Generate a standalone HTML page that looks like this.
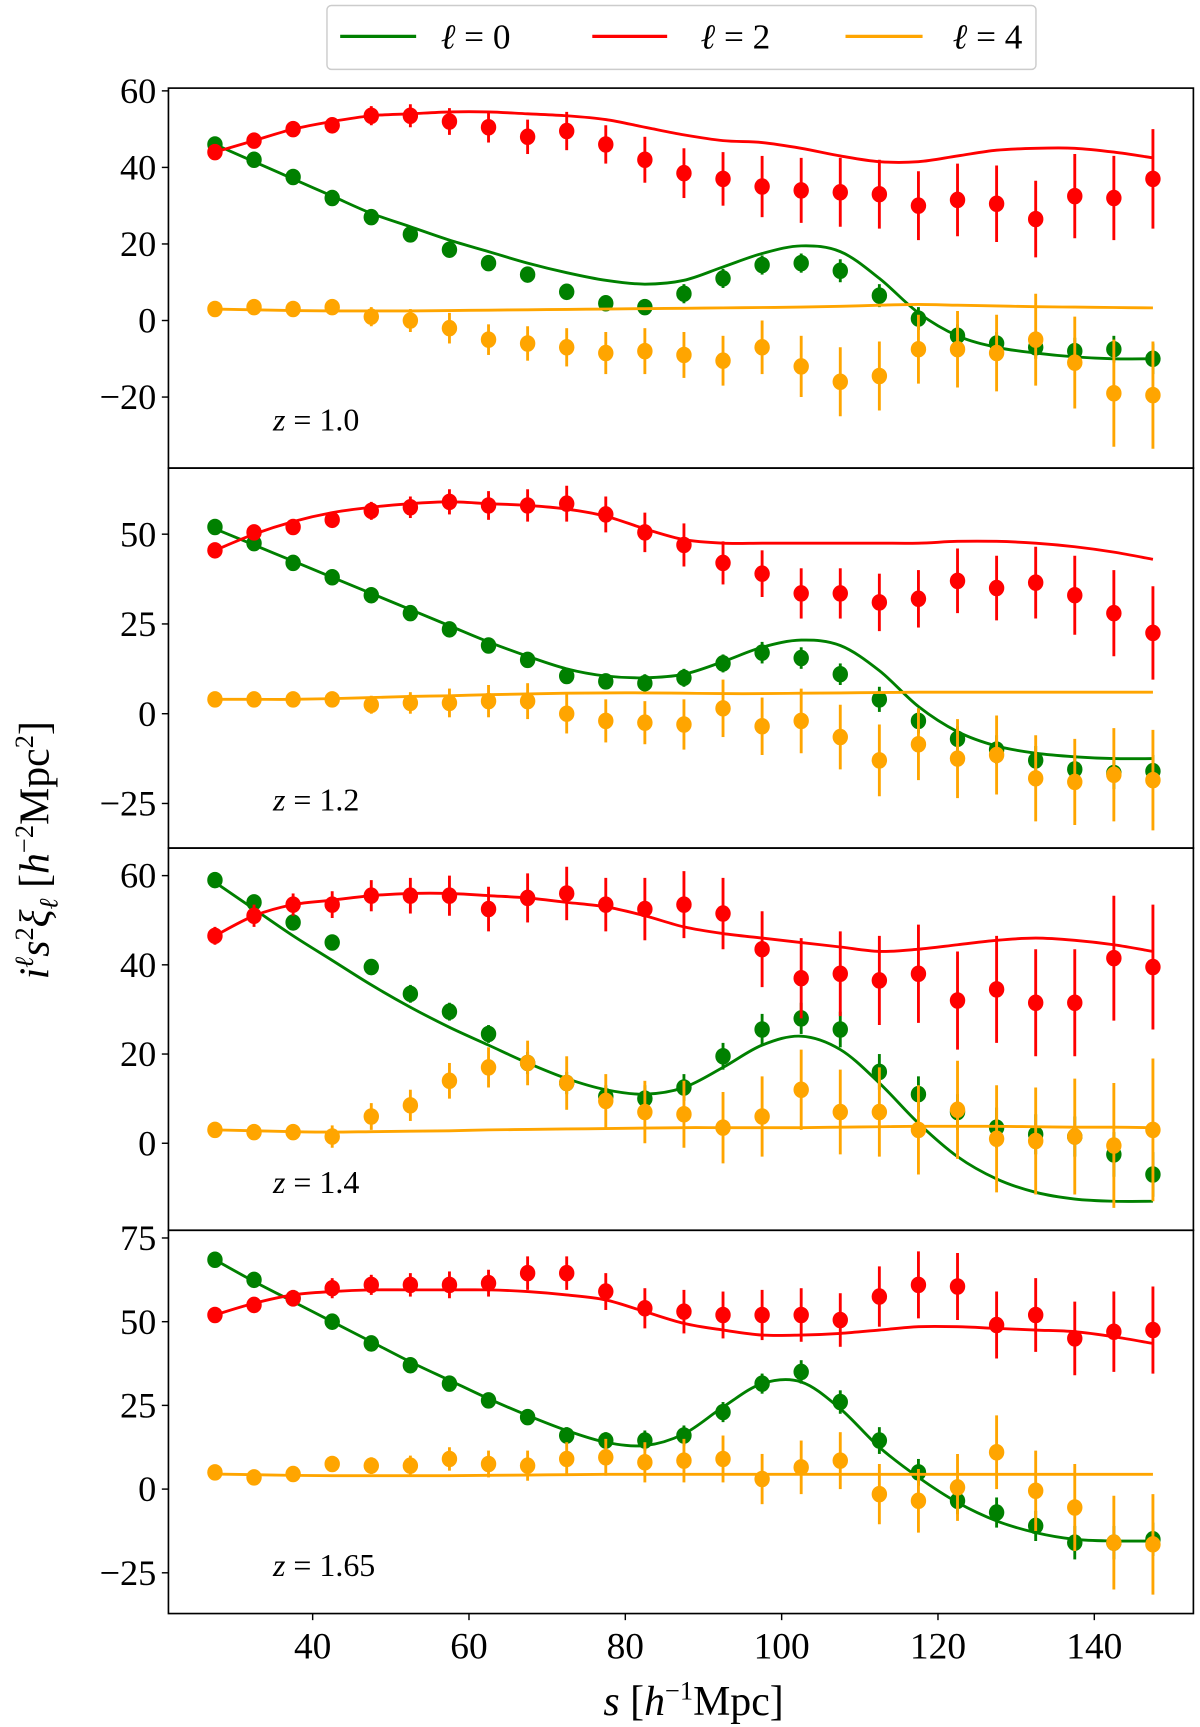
<!DOCTYPE html>
<html><head><meta charset="utf-8"><style>
html,body{margin:0;padding:0;background:#fff;}
svg{display:block;}
text{font-family:"Liberation Serif","DejaVu Serif",serif;fill:#000;}
</style></head><body>
<svg id="chart" width="1200" height="1727" viewBox="0 0 1090 1568" preserveAspectRatio="none" xmlns="http://www.w3.org/2000/svg"></svg>
<script>
const sValues=[27.5,32.5,37.5,42.5,47.5,52.5,57.5,62.5,67.5,72.5,77.5,82.5,87.5,92.5,97.5,102.5,107.5,112.5,117.5,122.5,127.5,132.5,137.5,142.5,147.5];
const xTicks=[40,60,80,100,120,140];
const panelLabels=["z = 1.0","z = 1.2","z = 1.4","z = 1.65"];
// Panel 1
const p1Mono=[46,42,37.5,32,27,22.5,18.5,15,12,7.5,4.5,3.5,7,11,14.5,15,13,6.5,0.5,-4,-6,-7,-8,-7.5,-10];
const p1MonoErr=[1.5,1.5,1.5,1.5,1.5,1.5,1.5,1.5,2,2,2,2,2.5,2.5,2.5,2.5,3,3,3,3,3,3,3.5,3.5,4];
const p1MonoModel=[46,41.5,37,32.5,28,24.5,21,18,15,12.5,10.5,9.5,10.5,14,17.5,19.5,18,11,2,-4,-7,-8.5,-9.5,-10,-10];
const p1Quad=[44,47,50,51,53.5,53.5,52,50.5,48,49.5,46,42,38.5,37,35,34,33.5,33,30,31.5,30.5,26.5,32.5,32,37];
const p1QuadErr=[2,2,2,2,2.5,3,3.5,4,4.5,5,5,6,6.5,7,8,8.5,9,9,9,9.5,10,10,11,11,13];
const p1QuadModel=[44,47,50,52,53.5,54,54.5,54.5,54,53.5,52.5,50.5,48.5,47,46.5,45,43,41.5,41.5,43,44.5,45,45,44,42.5];
const p1Hexa=[3,3.5,3,3.5,1,0,-2,-5,-6,-7,-8.5,-8,-9,-10.5,-7,-12,-16,-14.5,-7.5,-7.5,-8.5,-5,-11,-19,-19.5];
const p1HexaErr=[1.5,1.5,1.5,2,2.5,3,4,4,4.5,5,5.5,6,6,6.5,7,8,9,9,9,10,10,12,12,14,14];
const p1HexaModel=[3,2.8,2.6,2.5,2.5,2.5,2.6,2.7,2.8,2.9,3,3.1,3.2,3.3,3.4,3.5,3.7,4,4.2,4,3.8,3.6,3.5,3.4,3.3];
const p1Ticks=[60,40,20,0,-20];
// Panel 2
const p2Mono=[52,47.5,42,38,33,28,23.5,19,15,10.5,9,8.5,10,14,17,15.5,11,4,-2,-7,-10,-13,-15.5,-16.5,-16];
const p2MonoErr=[1.5,1.5,1.5,1.5,1.5,1.5,1.5,2,2,2,2,2.5,2.5,2.5,3,3,3,3.5,3.5,3.5,4,4,4,4.5,4.5];
const p2MonoModel=[51.5,47,42.5,38,33.5,29,24.5,20,16,12.5,10.5,10,11,14.5,18.5,20.5,19,12,2,-5,-9,-11,-12,-12.5,-12.5];
const p2Quad=[45.5,50.5,52,54,56.5,57.5,59,58,58,58.5,55.5,50.5,47,42,39,33.5,33.5,31,32,37,35,36.5,33,28,22.5];
const p2QuadErr=[2,2,2,2,2.5,3,3.5,4,4.5,5,5,5.5,6,6,6.5,7,7,8,8,9,9,10,11,12,13];
const p2QuadModel=[45.5,50,53.5,56,57.5,58.5,59,58.5,58,57,55,51.5,48.5,47.5,47.5,47.5,47.5,47.5,47.5,48,48,47.5,46.5,45,43];
const p2Hexa=[4,4,4,4,2.5,3,3,3.5,3.5,0,-2,-2.5,-3,1.5,-3.5,-2,-6.5,-13,-8.5,-12.5,-11.5,-18,-19,-17,-18.5];
const p2HexaErr=[1.5,1.5,1.5,2,2.5,3,4,4.5,5,5.5,6,6,7,8,8,9,9,10,10,11,11,12,12,13,14];
const p2HexaModel=[4,4,4,4.2,4.5,4.8,5,5.3,5.5,5.7,5.8,5.8,5.7,5.6,5.6,5.7,5.8,5.9,6,6,6,6,6,6,6];
const p2Ticks=[50,25,0,-25];
// Panel 3
const p3Mono=[59,54,49.5,45,39.5,33.5,29.5,24.5,18,13.5,10.5,10,12.5,19.5,25.5,28,25.5,16,11,7,3.5,2,1.5,-2.5,-7];
const p3MonoErr=[1,1.5,1.5,1.5,1.5,2,2,2,2.5,2.5,2.5,3,3,3,3.5,3.5,4,4,4,4,4.5,4.5,4.5,5,5];
const p3MonoModel=[58.5,52.5,46.5,41,35.5,30.5,26,22,18,14.5,12,11,12.5,17,22,24,21,13.5,4.5,-3,-8,-11,-12.5,-13,-13];
const p3Quad=[46.5,51,53.5,53.5,55.5,55.5,55.5,52.5,55,56,53.5,52.5,53.5,51.5,43.5,37,38,36.5,38,32,34.5,31.5,31.5,41.5,39.5];
const p3QuadErr=[2,2.5,2.5,3,3.5,4,4.5,5,5.5,6,6,7,7.5,8,8.5,9,9.5,10,11,11,12,12,12,14,14];
const p3QuadModel=[46.5,51,53.5,54.5,55.5,56,56,55.5,55,54,53,51,48.5,47,46,45,44,43,43.5,44.5,45.5,46,45.5,44.5,43];
const p3Hexa=[3,2.5,2.5,1.5,6,8.5,14,17,18,13.5,9.5,7,6.5,3.5,6,12,7,7,3,7.5,1,0.5,1.5,-0.5,3];
const p3HexaErr=[1.5,1.5,1.5,2.5,3,3.5,4,4.5,5,6,6,7,7.5,8,9,9,9.5,10,10,11,12,12,13,14,16];
const p3HexaModel=[3,2.8,2.6,2.5,2.6,2.7,2.8,3,3.1,3.2,3.3,3.4,3.5,3.5,3.5,3.5,3.6,3.7,3.8,3.8,3.8,3.7,3.6,3.6,3.5];
const p3Ticks=[60,40,20,0];
// Panel 4
const p4Mono=[68.5,62.5,57,50,43.5,37,31.5,26.5,21.5,16,14.5,14.5,16,23,31.5,35,26,14.5,5,-3.5,-7,-11,-16,-16,-15];
const p4MonoErr=[1,1,1.5,1.5,1.5,1.5,2,2,2,2.5,2.5,3,3,3,3,3.5,3.5,4,4,4,4.5,4.5,5,5,5];
const p4MonoModel=[68.5,62,56,50,44,38,32.5,27,22,17.5,14,13,16.5,24.5,31.5,32,24,12.5,3.5,-4,-9.5,-13,-15,-15.5,-15.5];
const p4Quad=[52,55,57,60,61,61,61,61.5,64.5,64.5,59,54,53,52,52,52,50.5,57.5,61,60.5,49,52,45,47,47.5];
const p4QuadErr=[2,2,2.5,3,3,3.5,4,4,5,5,5.5,6,6.5,7,7.5,8,8,9,10,10,10,11,11,12,13];
const p4QuadModel=[52,55.5,58,59,59.5,59.5,59.5,59.5,59,58,56.5,53,49.5,47.5,46,46,46.5,47.5,48.5,48.5,48,47.5,47,45.5,43.5];
const p4Hexa=[5,3.5,4.5,7.5,7,7,9,7.5,7,9,9.5,8,8.5,9,3,6.5,8.5,-1.5,-3.5,0.5,11,-0.5,-5.5,-16,-16.5];
const p4HexaErr=[1.5,1.5,2,2,2.5,3,3.5,4,4.5,5,5.5,6,6.5,7,7.5,8,8.5,9,9.5,10,11,12,13,14,15];
const p4HexaModel=[4.5,4.3,4.1,4,4,4,4,4.1,4.2,4.3,4.4,4.4,4.4,4.4,4.4,4.4,4.4,4.4,4.4,4.4,4.4,4.4,4.4,4.4,4.4];
const p4Ticks=[75,50,25,0,-25];

const NS="http://www.w3.org/2000/svg";
const svg=document.getElementById('chart');
const L=153,R=1084;
const xScale=s=>284+(s-40)*7.1;
const panels=[
 {top:80,bot:425,zero:291,unit:69.5/20,ticks:p1Ticks,series:[[p1Mono,p1MonoErr,p1MonoModel],[p1Quad,p1QuadErr,p1QuadModel],[p1Hexa,p1HexaErr,p1HexaModel]]},
 {top:425,bot:770,zero:648,unit:81.5/25,ticks:p2Ticks,series:[[p2Mono,p2MonoErr,p2MonoModel],[p2Quad,p2QuadErr,p2QuadModel],[p2Hexa,p2HexaErr,p2HexaModel]]},
 {top:770,bot:1117,zero:1038,unit:81/20,ticks:p3Ticks,series:[[p3Mono,p3MonoErr,p3MonoModel],[p3Quad,p3QuadErr,p3QuadModel],[p3Hexa,p3HexaErr,p3HexaModel]]},
 {top:1117,bot:1465,zero:1352,unit:76/25,ticks:p4Ticks,series:[[p4Mono,p4MonoErr,p4MonoModel],[p4Quad,p4QuadErr,p4QuadModel],[p4Hexa,p4HexaErr,p4HexaModel]]}
];
const colors=['#008000','#ff0000','#ffa500'];
const names=['monopole','quadrupole','hexadecapole'];
function mk(tag,attrs,parent){const e=document.createElementNS(NS,tag);for(const k in attrs)e.setAttribute(k,attrs[k]);(parent||svg).appendChild(e);return e;}
function smoothPath(pts){let d=`M${pts[0][0]},${pts[0][1]}`;for(let i=0;i<pts.length-1;i++){const p0=pts[Math.max(0,i-1)],p1=pts[i],p2=pts[i+1],p3=pts[Math.min(pts.length-1,i+2)];const c1=[p1[0]+(p2[0]-p0[0])/6,p1[1]+(p2[1]-p0[1])/6],c2=[p2[0]-(p3[0]-p1[0])/6,p2[1]-(p3[1]-p1[1])/6];d+=` C${c1[0]},${c1[1]} ${c2[0]},${c2[1]} ${p2[0]},${p2[1]}`;}return d;}

panels.forEach((p,pi)=>{
 const g=mk('g',{});
 
 
 const y=v=>p.zero-v*p.unit;
 const cid='clip'+pi;
 const cp=mk('clipPath',{id:cid},g);mk('rect',{x:L,y:p.top,width:R-L,height:p.bot-p.top},cp);
 const plot=mk('g',{'clip-path':`url(#${cid})`},g);
 p.series.forEach((ser,si)=>{
  const [vals,errs,model]=ser;
  const path=mk('path',{d:smoothPath(sValues.map((s,i)=>[xScale(s),y(model[i])])),fill:'none',stroke:colors[si],'stroke-width':2.6},plot);
  
  
  vals.forEach((v,i)=>{
   const x=xScale(sValues[i]);
   const eb=mk('line',{x1:x,x2:x,y1:y(v-errs[i]),y2:y(v+errs[i]),stroke:colors[si],'stroke-width':2.6},plot);
   
   
   const c=mk('ellipse',{cx:x,cy:y(v),rx:7,ry:7.5,fill:colors[si]},plot);
   
   
  });
 });
 const fr=mk('rect',{x:L,y:p.top,width:R-L,height:p.bot-p.top,fill:'none',stroke:'#000','stroke-width':1.5},g);
 
 
 p.ticks.forEach(t=>{
  const ty=y(t);
  mk('line',{x1:L-6,x2:L,y1:ty,y2:ty,stroke:'#000','stroke-width':1.3},g);
  const tx=mk('text',{x:L-11,y:ty+11,'text-anchor':'end','font-size':33},g);
  tx.textContent=(t<0?'\u2212'+(-t):String(t));
  
  
 });
 const zl=mk('text',{x:248,y:p.bot-34,'font-size':29},g);
 
 
 const parts=panelLabels[pi].split(' = ');
 const ti=mk('tspan',{'font-style':'italic'},zl);ti.textContent='z';
 const tr=mk('tspan',{},zl);tr.textContent=' = '+parts[1];
});
xTicks.forEach(t=>{
 const x=xScale(t);
 mk('line',{x1:x,x2:x,y1:1465,y2:1471,stroke:'#000','stroke-width':1.3});
 const tx=mk('text',{x:x,y:1506,'text-anchor':'middle','font-size':34});
 tx.textContent=t;
 
 
});
</script>
<svg style="position:absolute;left:0;top:0" width="1200" height="1727" viewBox="0 0 1090 1568" preserveAspectRatio="none" xmlns="http://www.w3.org/2000/svg">
 <g>
  <rect x="297" y="5" width="644" height="58" rx="4" fill="#fff" stroke="#ccc" stroke-width="1.3"/>
  <line x1="309" x2="378" y1="33" y2="33" stroke="#008000" stroke-width="3"/>
  <text x="432" y="44" font-size="32" text-anchor="middle" font-family="Liberation Serif, serif"><tspan font-style="italic">ℓ</tspan> = 0</text>
  <line x1="538" x2="606" y1="33" y2="33" stroke="#ff0000" stroke-width="3"/>
  <text x="668" y="44" font-size="32" text-anchor="middle" font-family="Liberation Serif, serif"><tspan font-style="italic">ℓ</tspan> = 2</text>
  <line x1="768" x2="838" y1="33" y2="33" stroke="#ffa500" stroke-width="3"/>
  <text x="897" y="44" font-size="32" text-anchor="middle" font-family="Liberation Serif, serif"><tspan font-style="italic">ℓ</tspan> = 4</text>
 </g>
 <text x="630" y="1557" font-size="38" text-anchor="middle" font-family="Liberation Serif, serif"><tspan font-style="italic">s</tspan> [<tspan font-style="italic">h</tspan><tspan font-size="24" dy="-14">−1</tspan><tspan dy="14">Mpc]</tspan></text>
 <text transform="translate(44,772) rotate(-90)" font-size="38" text-anchor="middle" font-family="Liberation Serif, serif"><tspan font-style="italic">i</tspan><tspan font-size="24" dy="-14" font-style="italic">ℓ</tspan><tspan dy="14" font-style="italic">s</tspan><tspan font-size="24" dy="-14">2</tspan><tspan dy="14" font-style="italic">ξ</tspan><tspan font-size="24" dy="8" font-style="italic">ℓ</tspan><tspan dy="-8"> [</tspan><tspan font-style="italic">h</tspan><tspan font-size="24" dy="-14">−2</tspan><tspan dy="14">Mpc</tspan><tspan font-size="24" dy="-14">2</tspan><tspan dy="14">]</tspan></text>
</svg>
</body></html>
